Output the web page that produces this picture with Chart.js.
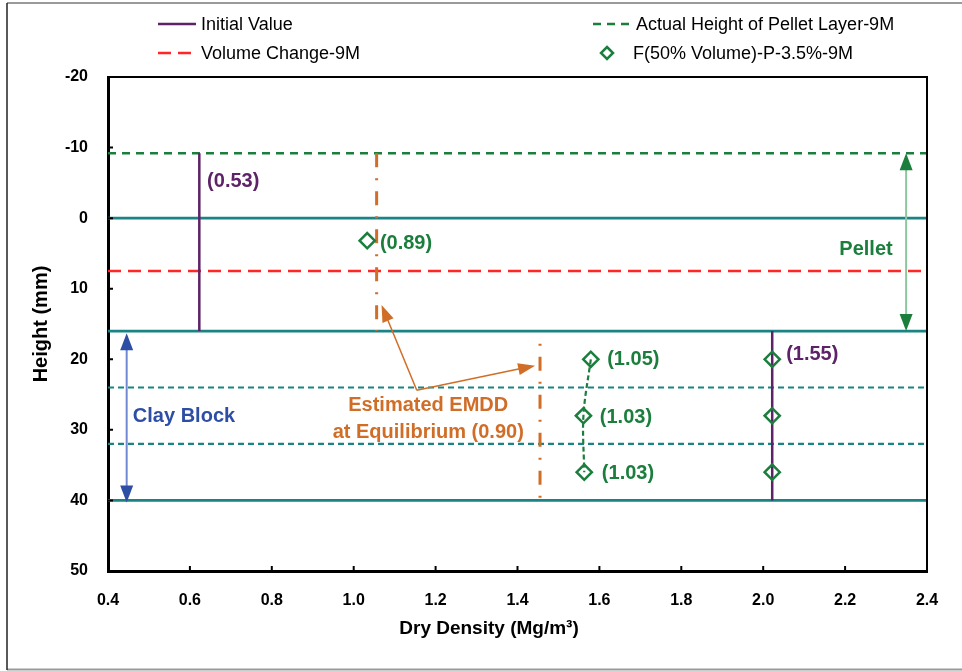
<!DOCTYPE html>
<html>
<head>
<meta charset="utf-8">
<script src="https://cdn.jsdelivr.net/npm/chart.js@4.4.1/dist/chart.umd.min.js"></script>
<style>
  html, body { margin: 0; padding: 0; background: #ffffff; }
  #wrap { width: 962px; height: 671px; position: relative; }
</style>
</head>
<body>
<div id="wrap"><canvas id="chart"></canvas></div>
<script>
const FONT = "'Liberation Sans', Arial, sans-serif";
const NARROW = "'Liberation Sans Narrow', 'Arial Narrow', 'Liberation Sans', Arial, sans-serif";

// Axis ranges
const xMin = 0.4, xMax = 2.4, xStep = 0.2;
const yMin = -20, yMax = 50, yStep = 10;

// Layer levels (mm)
const boundaryLevels = [0, 16, 40];
const sublayerLevels = [24, 32];
const pelletTopLevel = -9.2;
const volumeChangeLevel = 7.5;

// Initial dry density of pellet layer and clay block
const initialX = [0.623, 0.623, null, 2.022, 2.022];
const initialY = [-9.2, 16, null, 16, 40];

// Estimated EMDD at equilibrium (pellet part / block part)
const emddPelletX = [1.056, 1.056];
const emddPelletY = [-9.2, 16];
const emddBlockX = [1.455, 1.455];
const emddBlockY = [17.8, 40.4];

// F(50% Volume)-P-3.5%-9M measurements
const f50X = [1.033, 1.579, 1.561, 1.563, 2.022, 2.022, 2.022];
const f50Y = [3.2, 20, 28, 36, 20, 28, 36];
const f50TrendIdx = [1, 2, 3];

// Value labels
const valueLabels = ['(0.53)', '(0.89)', '(1.05)', '(1.03)', '(1.03)', '(1.55)'];

const COLORS = {
  purple: '#5e2268',
  green: '#1b7e3d',
  red: '#ff2626',
  teal: '#1a8383',
  orange: '#d06e28',
  blue: '#2e4ea6',
  lightGreen: '#8cc7a0',
  lightBlue: '#7388d2'
};

const pts = (xs, ys) => xs.map((x, i) => ({ x: x, y: ys[i] }));
const levelLines = (levels) => {
  const out = [];
  levels.forEach((lv, i) => {
    if (i > 0) out.push({ x: null, y: null });
    out.push({ x: xMin, y: lv }, { x: xMax, y: lv });
  });
  return out;
};

const lineDs = (label, data, color, width, dash, extra) => Object.assign({
  label: label, data: data, showLine: true, borderColor: color, backgroundColor: color,
  borderWidth: width, borderDash: dash || [], pointRadius: 0, pointHoverRadius: 0,
  spanGaps: false, tension: 0
}, extra || {});

const datasets = [
  {
    label: 'F(50% Volume)-P-3.5%-9M',
    data: pts(f50X, f50Y),
    showLine: false,
    pointStyle: 'rectRot',
    pointRadius: 7.6,
    pointHoverRadius: 7.6,
    borderWidth: 2.5,
    borderColor: COLORS.green,
    backgroundColor: 'rgba(0,0,0,0)'
  },
  lineDs('f50 trend', f50TrendIdx.map(i => ({ x: f50X[i], y: f50Y[i] })), COLORS.green, 2.2, [5, 3], { tension: 0.35 }),
  lineDs('Initial Value', pts(initialX, initialY), COLORS.purple, 2.5),
  lineDs('emdd pellet', pts(emddPelletX, emddPelletY), COLORS.orange, 3, [14, 11, 2, 11]),
  lineDs('emdd block', pts(emddBlockX, emddBlockY), COLORS.orange, 3, [14, 11, 2, 11], { borderDashOffset: 25 }),
  lineDs('Actual Height of Pellet Layer-9M', [{ x: xMin, y: pelletTopLevel }, { x: xMax, y: pelletTopLevel }], COLORS.green, 2.5, [8, 6]),
  lineDs('Volume Change-9M', [{ x: xMin, y: volumeChangeLevel }, { x: xMax, y: volumeChangeLevel }], COLORS.red, 2.5, [13, 7]),
  lineDs('sublayers', levelLines(sublayerLevels), COLORS.teal, 2.2, [6, 4]),
  lineDs('boundaries', levelLines(boundaryLevels), COLORS.teal, 2.8)
];

// Annotation text and arrows, positioned in data units
const notes = {
  values: [
    { text: valueLabels[0], x: 0.642, y: -5.25, color: COLORS.purple },
    { text: valueLabels[1], x: 1.064, y: 3.55, color: COLORS.green },
    { text: valueLabels[2], x: 1.619, y: 20.0, color: COLORS.green },
    { text: valueLabels[3], x: 1.601, y: 28.2, color: COLORS.green },
    { text: valueLabels[4], x: 1.606, y: 36.2, color: COLORS.green },
    { text: valueLabels[5], x: 2.056, y: 19.3, color: COLORS.purple }
  ],
  centered: [
    { text: 'Clay Block', x: 0.5856, y: 28.1, color: COLORS.blue },
    { text: 'Pellet', x: 2.251, y: 4.4, color: COLORS.green },
    { text: 'Estimated EMDD', x: 1.182, y: 26.5, color: COLORS.orange },
    { text: 'at Equilibrium (0.90)', x: 1.182, y: 30.4, color: COLORS.orange }
  ],
  spans: [
    { x: 2.349, y1: pelletTopLevel, y2: 16, shaft: COLORS.lightGreen, head: COLORS.green },
    { x: 0.4456, y1: 16.3, y2: 40.3, shaft: COLORS.lightBlue, head: COLORS.blue }
  ],
  pointer: { from: { x: 1.154, y: 24.4 }, to: [{ x: 1.068, y: 12.3 }, { x: 1.443, y: 20.9 }], color: COLORS.orange }
};

const legendLayout = [
  { label: 'Initial Value', sx: 158, ex: 196, tx: 201, y: 24 },
  { label: 'Volume Change-9M', sx: 158, ex: 196, tx: 201, y: 53 },
  { label: 'Actual Height of Pellet Layer-9M', sx: 593, ex: 631, tx: 636, y: 24 },
  { label: 'F(50% Volume)-P-3.5%-9M', sx: 598, ex: 616, tx: 633, y: 53 }
];

function head(ctx, x1, y1, x2, y2, len, half) {
  const a = Math.atan2(y2 - y1, x2 - x1);
  const bx = x2 - len * Math.cos(a), by = y2 - len * Math.sin(a);
  ctx.beginPath();
  ctx.moveTo(x2, y2);
  ctx.lineTo(bx + half * Math.sin(a), by - half * Math.cos(a));
  ctx.lineTo(bx - half * Math.sin(a), by + half * Math.cos(a));
  ctx.closePath();
  ctx.fill();
}

const decor = {
  id: 'decor',
  beforeDraw(chart) {
    const ctx = chart.ctx;
    ctx.save();
    ctx.fillStyle = '#ffffff';
    ctx.fillRect(0, 0, chart.width, chart.height);
    ctx.lineWidth = 2;
    ctx.strokeStyle = '#9a9a9a';
    ctx.beginPath();
    ctx.moveTo(7, 3); ctx.lineTo(chart.width, 3);
    ctx.moveTo(7, 669.5); ctx.lineTo(chart.width, 669.5);
    ctx.stroke();
    ctx.strokeStyle = '#222222';
    ctx.lineWidth = 1.5;
    ctx.beginPath();
    ctx.moveTo(7, 3); ctx.lineTo(7, 670);
    ctx.stroke();
    ctx.restore();
  },
  afterDatasetsDraw(chart) {
    const ctx = chart.ctx;
    const xs = chart.scales.x, ys = chart.scales.y;
    const px = v => xs.getPixelForValue(v), py = v => ys.getPixelForValue(v);
    ctx.save();
    // span arrows
    notes.spans.forEach(s => {
      const x = px(s.x), y1 = py(s.y1), y2 = py(s.y2);
      ctx.strokeStyle = s.shaft;
      ctx.lineWidth = 2;
      ctx.beginPath(); ctx.moveTo(x, y1 + 10); ctx.lineTo(x, y2 - 10); ctx.stroke();
      ctx.fillStyle = s.head;
      head(ctx, x, y2, x, y1, 17, 6.5);
      head(ctx, x, y1, x, y2, 17, 6.5);
    });
    // pointer arrows
    const p = notes.pointer;
    ctx.strokeStyle = p.color; ctx.fillStyle = p.color; ctx.lineWidth = 1.5;
    const fx = px(p.from.x), fy = py(p.from.y);
    p.to.forEach(t => {
      const tx = px(t.x), ty = py(t.y);
      const a = Math.atan2(ty - fy, tx - fx);
      ctx.beginPath(); ctx.moveTo(fx, fy); ctx.lineTo(tx - 12 * Math.cos(a), ty - 12 * Math.sin(a)); ctx.stroke();
      head(ctx, fx, fy, tx, ty, 17, 6);
    });
    // texts
    ctx.font = 'bold 20px ' + FONT;
    ctx.textBaseline = 'middle';
    ctx.textAlign = 'left';
    notes.values.forEach(n => { ctx.fillStyle = n.color; ctx.fillText(n.text, px(n.x), py(n.y)); });
    ctx.textAlign = 'center';
    notes.centered.forEach(n => { ctx.fillStyle = n.color; ctx.fillText(n.text, px(n.x), py(n.y)); });
    ctx.restore();
  },
  afterDraw(chart) {
    const ctx = chart.ctx;
    const a = chart.chartArea;
    const xs = chart.scales.x, ys = chart.scales.y;
    ctx.save();
    // top and right frame
    ctx.strokeStyle = '#000000';
    ctx.lineWidth = 2;
    ctx.beginPath();
    ctx.moveTo(a.left, a.top); ctx.lineTo(a.right, a.top); ctx.lineTo(a.right, a.bottom);
    ctx.stroke();
    // inward tick marks
    ctx.lineWidth = 2;
    ctx.beginPath();
    xs.ticks.forEach(t => { const x = xs.getPixelForValue(t.value); ctx.moveTo(x, a.bottom); ctx.lineTo(x, a.bottom - 5); });
    ys.ticks.forEach(t => { const y = ys.getPixelForValue(t.value); ctx.moveTo(a.left, y); ctx.lineTo(a.left + 5, y); });
    ctx.stroke();
    // x axis title
    ctx.fillStyle = '#000000';
    ctx.font = 'bold 19px ' + FONT;
    ctx.textAlign = 'center';
    ctx.textBaseline = 'middle';
    ctx.fillText('Dry Density (Mg/m\u00B3)', 489, 629);
    // legend
    ctx.font = '18px ' + NARROW;
    ctx.textAlign = 'left';
    legendLayout.forEach(item => {
      const ds = chart.data.datasets.find(d => d.label === item.label);
      ctx.strokeStyle = ds.borderColor;
      ctx.lineWidth = 2.5;
      if (ds.showLine) {
        ctx.setLineDash(ds.borderDash || []);
        ctx.beginPath(); ctx.moveTo(item.sx, item.y); ctx.lineTo(item.ex, item.y); ctx.stroke();
        ctx.setLineDash([]);
      } else {
        const cx = (item.sx + item.ex) / 2, r = 6;
        ctx.beginPath();
        ctx.moveTo(cx, item.y - r); ctx.lineTo(cx + r, item.y); ctx.lineTo(cx, item.y + r); ctx.lineTo(cx - r, item.y);
        ctx.closePath(); ctx.stroke();
      }
      ctx.fillStyle = '#000000';
      ctx.fillText(item.label, item.tx, item.y + 1);
    });
    ctx.restore();
  }
};

new Chart(document.getElementById('chart'), {
  type: 'scatter',
  data: { datasets: datasets },
  options: {
    responsive: true,
    maintainAspectRatio: false,
    animation: false,
    events: [],
    layout: { padding: { top: 77, right: 35, left: 0, bottom: 0 } },
    plugins: { legend: { display: false }, tooltip: { enabled: false } },
    scales: {
      x: {
        type: 'linear', min: xMin, max: xMax,
        afterFit: s => { s.height = 100; },
        grid: { display: false, drawTicks: false },
        border: { display: true, color: '#000000', width: 3 },
        ticks: {
          stepSize: xStep, padding: 20, color: '#000000',
          font: { family: FONT, size: 16, weight: 'bold' },
          callback: v => v.toFixed(1)
        }
      },
      y: {
        type: 'linear', min: yMin, max: yMax, reverse: true,
        afterFit: s => { s.width = 108; },
        grid: { display: false, drawTicks: false },
        border: { display: true, color: '#000000', width: 3 },
        ticks: {
          stepSize: yStep, padding: 20, color: '#000000',
          font: { family: FONT, size: 16, weight: 'bold' }
        },
        title: {
          display: true, text: 'Height (mm)', color: '#000000',
          font: { family: FONT, size: 20, weight: 'bold' },
          padding: { top: 29, bottom: 0 }
        }
      }
    }
  },
  plugins: [decor]
});
</script>
</body>
</html>
